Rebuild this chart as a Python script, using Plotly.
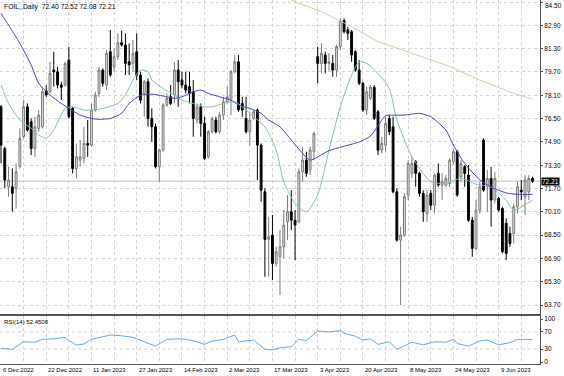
import plotly.graph_objects as go

# ---------------- data ----------------
symbol_title = "FOIL,,Daily  72.40 72.52 72.08 72.21"
rsi_title = "RSI(14) 52.4508"

date_labels = ["6 Dec 2022", "22 Dec 2022", "11 Jan 2023", "27 Jan 2023", "14 Feb 2023",
               "2 Mar 2023", "17 Mar 2023", "3 Apr 2023", "20 Apr 2023", "8 May 2023",
               "24 May 2023", "9 Jun 2023"]
date_label_bars = [0, 12, 24, 36, 48, 60, 72, 84, 96, 108, 120, 132]

price_ticks = [84.50, 82.90, 81.30, 79.70, 78.10, 76.50, 74.90, 73.30, 71.70, 70.10,
               68.50, 66.90, 65.30, 63.70]
rsi_ticks = [0, 30, 70, 100]
rsi_levels = [30, 70]
last_price = 72.21

open_ = [77.31, 74.45, 71.82, 71.82, 71.71, 73.20, 75.26, 77.31, 76.29, 74.45,
         75.83, 75.94, 78.40, 78.34, 79.83, 79.72, 78.80, 78.80, 80.52, 77.20,
         73.08, 73.65, 73.77, 74.80, 74.68, 77.09, 78.23, 79.83, 78.80, 81.09,
         80.06, 80.75, 81.71, 81.55, 80.40, 80.29, 81.09, 79.49, 78.23, 79.03,
         76.51, 75.94, 73.20, 74.34, 77.43, 78.00, 78.12, 79.83, 79.15, 78.80,
         78.69, 78.34, 76.40, 77.31, 76.17, 73.88, 75.60, 76.40, 75.60, 76.74,
         77.66, 77.77, 79.72, 80.40, 77.54, 76.51, 75.60, 76.51, 77.09, 74.68,
         71.48, 68.21, 68.50, 66.56, 67.02, 67.70, 69.42, 70.11, 69.53, 69.42,
         72.85, 73.65, 72.97, 74.23, 80.75, 80.29, 80.86, 80.29, 80.29, 79.83,
         81.43, 83.22, 82.60, 82.46, 81.09, 79.83, 78.92, 77.09, 77.89, 78.65,
         76.97, 74.34, 74.68, 76.51, 75.94, 71.48, 68.16, 68.50, 71.25, 72.74,
         73.54, 72.74, 71.37, 69.99, 71.37, 70.56, 72.74, 71.94, 71.94, 72.05,
         73.54, 74.23, 72.51, 73.20, 72.62, 69.53, 67.59, 70.22, 75.03, 71.82,
         72.39, 70.91, 71.02, 70.33, 69.31, 68.62, 68.62, 70.45, 71.59, 71.14,
         71.48, 72.40]
high_ = [77.43, 74.57, 73.20, 73.08, 73.42, 75.83, 77.77, 77.54, 76.51, 76.63,
         77.09, 78.57, 78.80, 80.40, 81.09, 80.06, 79.03, 80.40, 81.43, 77.31,
         74.80, 75.03, 75.94, 76.40, 77.54, 78.34, 80.06, 79.95, 81.20, 82.58,
         81.32, 82.35, 82.53, 82.35, 81.66, 81.89, 82.35, 79.72, 79.15, 79.26,
         77.20, 76.17, 74.45, 77.54, 78.23, 78.80, 80.40, 80.52, 79.72, 79.72,
         79.72, 79.15, 77.54, 77.54, 76.63, 75.71, 76.63, 76.63, 76.97, 78.00,
         78.69, 79.83, 80.86, 80.86, 78.00, 78.00, 76.97, 77.09, 77.20, 74.80,
         71.71, 69.76, 69.88, 67.70, 68.85, 70.22, 71.25, 71.59, 70.22, 73.08,
         74.57, 74.23, 74.57, 75.60, 81.43, 81.66, 81.09, 80.98, 80.86, 81.55,
         83.38, 83.38, 82.80, 82.58, 81.20, 80.52, 79.03, 78.69, 78.80, 78.80,
         77.09, 75.26, 76.63, 76.74, 76.63, 71.71, 69.08, 71.37, 73.65, 73.88,
         73.65, 72.85, 71.59, 71.59, 71.59, 72.74, 73.42, 72.74, 72.62, 73.77,
         74.45, 74.34, 73.65, 73.31, 73.31, 69.76, 70.91, 72.17, 75.14, 72.97,
         73.20, 72.85, 71.14, 70.45, 69.65, 69.08, 70.68, 72.17, 72.28, 72.62,
         72.62, 72.52]
low_ = [73.42, 71.71, 71.14, 70.11, 70.33, 73.08, 75.14, 75.60, 74.00, 73.88,
        75.60, 75.83, 78.00, 78.23, 78.69, 78.57, 77.77, 78.69, 76.51, 72.74,
        72.39, 73.20, 73.42, 73.88, 74.57, 76.97, 78.00, 78.69, 78.46, 79.37,
        79.72, 80.52, 81.43, 79.49, 79.49, 79.72, 79.15, 77.54, 76.63, 75.94,
        74.91, 73.08, 72.17, 74.23, 77.31, 77.43, 77.54, 77.31, 78.57, 78.23,
        77.54, 75.26, 76.17, 75.26, 73.65, 73.77, 75.48, 75.48, 75.48, 76.40,
        77.54, 76.74, 79.60, 76.97, 76.63, 75.48, 74.68, 76.40, 72.28, 70.79,
        65.64, 65.64, 65.42, 66.33, 64.39, 66.90, 68.16, 68.85, 66.79, 69.31,
        72.17, 72.51, 72.62, 73.65, 78.92, 79.60, 79.60, 79.72, 79.37, 79.37,
        81.20, 82.35, 81.89, 80.40, 79.72, 78.80, 76.97, 76.74, 77.77, 76.40,
        74.00, 74.11, 74.23, 75.37, 71.37, 68.05, 63.70, 68.39, 70.91, 72.39,
        71.82, 71.14, 69.42, 69.42, 70.22, 69.99, 71.82, 70.91, 71.82, 71.82,
        73.31, 71.14, 72.17, 71.82, 69.42, 67.02, 67.47, 69.99, 71.48, 70.11,
        69.08, 70.68, 70.11, 67.25, 66.79, 67.70, 67.93, 69.99, 70.91, 69.88,
        70.91, 72.08]
close_ = [74.68, 72.28, 72.28, 71.37, 72.85, 75.14, 77.31, 75.71, 74.45, 75.94,
          76.74, 78.34, 78.12, 79.60, 79.72, 78.80, 78.65, 80.29, 76.63, 73.08,
          73.88, 73.88, 74.80, 74.68, 77.09, 78.12, 79.83, 78.92, 80.98, 79.49,
          80.75, 81.71, 81.55, 80.29, 80.18, 80.98, 79.49, 77.77, 79.03, 76.51,
          75.94, 73.20, 74.34, 77.43, 77.89, 77.54, 79.83, 79.03, 78.80, 78.46,
          78.23, 76.51, 77.31, 76.17, 73.77, 75.60, 76.51, 75.60, 76.74, 77.66,
          78.00, 79.72, 80.40, 77.09, 77.09, 75.60, 76.40, 76.97, 74.68, 71.59,
          68.21, 68.39, 66.56, 67.36, 67.70, 69.19, 70.11, 69.53, 69.19, 72.85,
          73.65, 72.74, 74.34, 75.48, 80.29, 80.98, 80.29, 80.40, 79.83, 81.43,
          83.22, 82.46, 82.35, 80.86, 79.83, 78.92, 77.09, 78.34, 78.65, 76.51,
          74.34, 74.80, 76.17, 75.60, 71.48, 68.16, 68.50, 71.14, 73.42, 73.42,
          72.74, 71.37, 70.11, 71.25, 70.56, 72.62, 71.94, 72.17, 72.39, 73.65,
          74.23, 71.25, 73.42, 72.74, 69.53, 67.59, 70.22, 71.82, 71.59, 72.39,
          70.91, 72.39, 70.22, 67.36, 67.25, 67.93, 70.45, 71.82, 71.48, 72.28,
          72.39, 72.21]

# moving averages, read at a set of bars
ma_blue_bars = [0, 2, 5, 8, 10, 13, 16, 18, 21, 24, 26, 29, 32, 34, 37, 40, 43, 46, 48, 51,
                53, 55, 58, 61, 63, 66, 69, 71, 74, 77, 80, 82, 87, 95, 98, 100, 102, 104,
                107, 111, 114, 118, 120, 123, 127, 130, 134, 137, 141]
ma_blue = [83.72, 82.92, 81.66, 80.18, 78.92, 78.12, 77.54, 77.20, 76.74, 76.51, 76.45,
           76.51, 76.86, 77.54, 78.10, 78.18, 78.05, 77.89, 78.00, 78.34, 78.46, 78.23,
           78.00, 77.77, 77.43, 77.20, 76.86, 76.40, 75.94, 75.03, 74.11, 73.65, 74.30,
           74.90, 75.30, 76.00, 76.70, 76.74, 76.74, 76.86, 76.63, 75.71, 74.68, 73.42,
           72.30, 71.80, 71.40, 71.30, 71.30]

ma_green_bars = [0, 2, 5, 8, 10, 12, 14, 17, 19, 22, 25, 27, 31, 33, 35, 37, 39, 40, 43, 46,
                 48, 51, 54, 56, 59, 62, 64, 67, 70, 73, 75, 78, 81, 84, 87, 90, 93, 95,
                 97, 100, 103, 105, 109, 114, 118, 122, 126, 130, 134, 136, 139, 141]
ma_green = [78.80, 77.54, 76.40, 75.83, 75.37, 75.14, 75.71, 77.20, 77.31, 77.09, 77.09,
            77.20, 77.54, 78.12, 79.15, 79.83, 79.72, 79.15, 78.57, 78.12, 77.77, 77.54,
            77.31, 77.31, 77.54, 77.66, 77.31, 76.63, 75.94, 74.34, 72.17, 70.68, 70.11,
            71.25, 74.34, 77.31, 79.49, 80.40, 80.29, 79.60, 78.57, 76.40, 73.88, 72.17,
            72.05, 72.40, 72.00, 71.80, 70.90, 70.20, 70.60, 70.90]

ma_tan_bars = [75, 78, 85, 93, 100, 109, 118, 127, 136, 141]
ma_tan = [85.00, 84.50, 83.84, 82.81, 81.78, 80.98, 80.18, 79.15, 78.23, 77.84]

rsi_bars = [0, 3, 6, 9, 11, 14, 17, 18, 20, 22, 24, 26, 29, 32, 35, 38, 41, 44, 47, 49,
            52, 54, 56, 59, 62, 63, 67, 70, 72, 74, 77, 79, 81, 84, 87, 90, 91, 94, 96,
            98, 100, 103, 105, 109, 112, 115, 118, 120, 121, 124, 127, 129, 132, 135,
            137, 140, 141]
rsi = [31.8, 29.5, 47.0, 46.0, 52.7, 54.0, 57.4, 50.0, 39.5, 42.0, 52.7, 57.4, 62.8,
       61.0, 57.4, 47.0, 37.0, 52.7, 54.0, 52.7, 47.0, 41.0, 48.8, 52.7, 62.8, 47.0,
       50.9, 29.5, 27.9, 33.0, 35.7, 52.7, 50.0, 72.0, 70.0, 73.0, 67.0, 60.0, 51.0,
       54.0, 41.0, 47.0, 29.5, 46.0, 40.0, 47.0, 46.0, 52.7, 43.0, 37.0, 48.8, 51.0,
       40.0, 45.0, 52.7, 52.4, 52.45]

# ---------------- figure ----------------
bars = list(range(len(close_)))
grid_bars = list(range(0, len(close_) + 1, 6))
FONT = "Liberation Sans"
GRID = "#d4d4d4"
FRAME = "#555555"

fig = go.Figure()
fig.add_trace(go.Candlestick(
    x=bars, open=open_, high=high_, low=low_, close=close_,
    xaxis="x", yaxis="y", whiskerwidth=0,
    increasing=dict(line=dict(color="#7a7a7a", width=1), fillcolor="#e4e4e4"),
    decreasing=dict(line=dict(color="#000000", width=1), fillcolor="#000000"),
    showlegend=False, hoverinfo="skip"))
fig.add_trace(go.Scatter(x=ma_tan_bars, y=ma_tan, mode="lines", xaxis="x", yaxis="y",
                         line=dict(color="#e2c9a2", width=1), showlegend=False, hoverinfo="skip"))
fig.add_trace(go.Scatter(x=ma_green_bars, y=ma_green, mode="lines", xaxis="x", yaxis="y",
                         line=dict(color="#86c4ae", width=1, shape="spline", smoothing=0.6),
                         showlegend=False, hoverinfo="skip"))
fig.add_trace(go.Scatter(x=ma_blue_bars, y=ma_blue, mode="lines", xaxis="x", yaxis="y",
                         line=dict(color="#4a46c0", width=1, shape="spline", smoothing=0.6),
                         showlegend=False, hoverinfo="skip"))
fig.add_trace(go.Scatter(x=rsi_bars, y=rsi, mode="lines", xaxis="x2", yaxis="y2",
                         line=dict(color="#62ace8", width=1), showlegend=False, hoverinfo="skip"))

xr = [-0.265, 142.97]
common_x = dict(range=xr, tickmode="array", tickvals=grid_bars, showticklabels=False,
                showgrid=True, gridcolor=GRID, griddash="dot", gridwidth=1, zeroline=False,
                showline=True, mirror=True, linecolor=FRAME, linewidth=1, ticks="")

main_bottom = 1 - 314 / 364
rsi_top = 48 / 364

# top price label is drawn as an annotation so it is not clipped by the page edge
tick_text = ["%.2f" % v for v in price_ticks]
top_label = tick_text[0]
tick_text[0] = ""

fig.update_layout(
    width=564, height=376,
    margin=dict(l=0, r=24, t=0, b=12),
    paper_bgcolor="white", plot_bgcolor="white",
    font=dict(family=FONT, size=7, color="#000000"),
    xaxis=dict(anchor="y", domain=[0, 1], rangeslider=dict(visible=False), **common_x),
    xaxis2=dict(anchor="y2", domain=[0, 1], matches="x", **common_x),
    yaxis=dict(domain=[main_bottom, 1], range=[63.09, 84.64], side="right",
               tickmode="array", tickvals=price_ticks, ticktext=tick_text,
               showgrid=True, gridcolor=GRID, griddash="dot", zeroline=False,
               showline=True, mirror=True, linecolor=FRAME, linewidth=1,
               ticks="outside", ticklen=2, tickcolor=FRAME, ticklabeloverflow="allow",
               tickfont=dict(size=6.5, family=FONT), automargin=False),
    yaxis2=dict(domain=[0, rsi_top], range=[-4.65, 107], side="right",
                tickmode="array", tickvals=rsi_ticks, ticktext=[str(v) for v in rsi_ticks],
                showgrid=False, zeroline=False,
                showline=True, mirror=True, linecolor=FRAME, linewidth=1,
                ticks="outside", ticklen=2, tickcolor=FRAME, ticklabeloverflow="allow",
                tickfont=dict(size=6.5, family=FONT), automargin=False),
)

shapes = [dict(type="line", xref="paper", x0=0, x1=1, yref="y", y0=last_price, y1=last_price,
               line=dict(color="#c0c0c0", width=1), layer="below")]
for lv in rsi_levels:
    shapes.append(dict(type="line", xref="paper", x0=0, x1=1, yref="y2", y0=lv, y1=lv,
                       line=dict(color=GRID, width=1, dash="dot"), layer="below"))
fig.update_layout(shapes=shapes)

annotations = [
    dict(text=symbol_title, xref="paper", yref="paper", x=0, y=1, xanchor="left",
         yanchor="top", xshift=2, yshift=-1, showarrow=False,
         font=dict(size=6.8, family=FONT, color="#000000")),
    dict(text=rsi_title, xref="paper", yref="paper", x=0, y=rsi_top, xanchor="left",
         yanchor="top", xshift=2, yshift=-1, showarrow=False,
         font=dict(size=6, family=FONT, color="#000000")),
    dict(text="%.2f" % last_price, xref="paper", yref="y", x=1, y=last_price,
         xanchor="left", yanchor="middle", xshift=1, showarrow=False,
         bgcolor="#000000", borderpad=0,
         font=dict(size=6.5, family=FONT, color="#ffffff")),
    dict(text=top_label, xref="paper", yref="paper", x=1, y=1, xanchor="left",
         yanchor="top", xshift=3, yshift=0, showarrow=False,
         font=dict(size=6.5, family=FONT, color="#000000")),
]
for b, lab in zip(date_label_bars, date_labels):
    annotations.append(dict(text=lab, xref="x", yref="paper", x=b, y=0, xanchor="left",
                            yanchor="top", yshift=-1, showarrow=False,
                            font=dict(size=6, family=FONT, color="#000000")))
fig.update_layout(annotations=annotations)

fig.write_html("out.html", config={"displayModeBar": False},
               post_script="document.body.style.margin='0px';document.body.style.padding='0px';")
